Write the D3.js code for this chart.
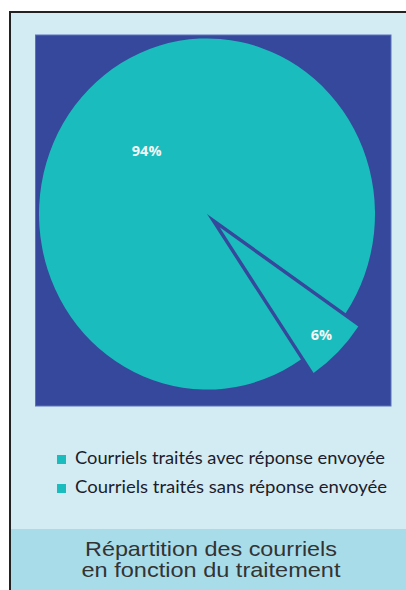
<!DOCTYPE html>
<html>
<head>
<meta charset="utf-8">
<script src="https://cdn.jsdelivr.net/npm/d3@7"></script>
<style>
  html, body { margin: 0; padding: 0; background: #fff; }
  svg { display: block; }
</style>
</head>
<body>
<svg id="chart"></svg>
<script>
// données
const categories = ["Courriels traités avec réponse envoyée", "Courriels traités sans réponse envoyée"];
const values = [94, 6];
const labels = ["94%", "6%"];
const titleLines = ["Répartition des courriels", "en fonction du traitement"];

const width = 406, height = 590;
const svg = d3.select("#chart").attr("width", width).attr("height", height);

/* cadre extérieur */
svg.append("rect")
    .attr("x", 10).attr("y", 12)
    .attr("width", width).attr("height", height)
    .attr("fill", "#d3ecf3")
    .attr("stroke", "#222").attr("stroke-width", 2);

/* zone de tracé */
svg.append("rect")
    .attr("x", 35.5).attr("y", 35)
    .attr("width", 355.5).attr("height", 371)
    .attr("fill", "#35489b")
    .attr("stroke", "#5d72bd").attr("stroke-width", 1);

/* camembert */
const cx = 207, cy = 214, r = 168, sy = 1.045;
const a0 = 146 * Math.PI / 180;
const pie = d3.pie().sort(null).startAngle(a0).endAngle(a0 + 2 * Math.PI);
const arc = d3.arc().innerRadius(0).outerRadius(r);
const arcs = pie(values);
const explode = (d, i) => i === 1 ? 18 : 0;
const mid = d => (d.startAngle + d.endAngle) / 2;

const g = svg.append("g").attr("transform", `translate(${cx},${cy}) scale(1,${sy})`);
g.selectAll("path")
    .data(arcs)
    .join("path")
    .attr("d", arc)
    .attr("fill", "#1bbcbd")
    .attr("transform", (d, i) => {
        const o = explode(d, i), a = mid(d);
        return `translate(${o * Math.sin(a)},${-o * Math.cos(a)})`;
    });

svg.selectAll("text.lbl")
    .data(arcs)
    .join("text")
    .attr("class", "lbl")
    .attr("x", (d, i) => cx + (explode(d, i) + r * (d.data < 10 ? 0.86 : 0.51)) * Math.sin(mid(d)))
    .attr("y", (d, i) => cy - (explode(d, i) + r * (d.data < 10 ? 0.86 : 0.51)) * Math.cos(mid(d)) * sy)
    .attr("dy", "0.35em")
    .attr("text-anchor", "middle")
    .attr("font-family", "'Open Sans', sans-serif")
    .attr("font-weight", "bold")
    .attr("font-size", 14.5)
    .attr("fill", "#f4f4f4")
    .text((d, i) => labels[i]);

/* légende */
const leg = svg.append("g");
categories.forEach((c, i) => {
    const y = 464 + i * 29;
    leg.append("rect")
        .attr("x", 57).attr("y", y - 9)
        .attr("width", 9).attr("height", 9)
        .attr("fill", "#1bbcbd");
    leg.append("text")
        .attr("x", 75).attr("y", y)
        .attr("font-family", "Lato, sans-serif")
        .attr("font-size", 17)
        .attr("fill", "#1c1c2c")
        .attr("textLength", i === 0 ? 310 : 312)
        .attr("lengthAdjust", "spacingAndGlyphs")
        .text(c);
});

/* bandeau de titre */
svg.append("rect")
    .attr("x", 11).attr("y", 529)
    .attr("width", width).attr("height", height - 529)
    .attr("fill", "#a9dce9");
titleLines.forEach((t, i) => {
    svg.append("text")
        .attr("x", 211).attr("y", 556 + i * 21)
        .attr("text-anchor", "middle")
        .attr("font-family", "'Liberation Sans', Arial, sans-serif")
        .attr("font-size", 21)
        .attr("fill", "#333")
        .attr("textLength", i === 0 ? 252 : 259)
        .attr("lengthAdjust", "spacingAndGlyphs")
        .text(t);
});
</script>
</body>
</html>
